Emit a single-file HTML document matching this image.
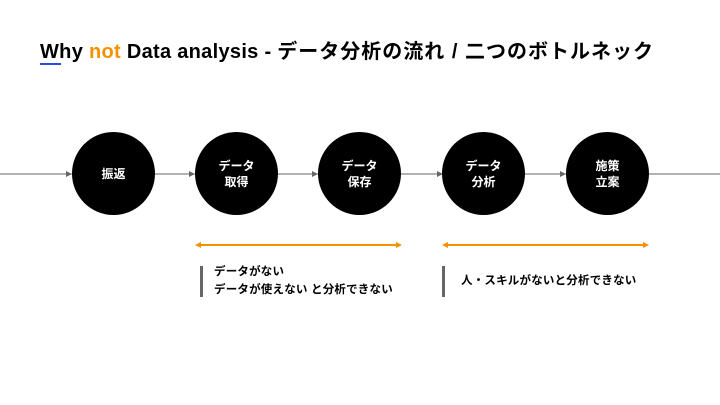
<!DOCTYPE html>
<html><head><meta charset="utf-8"><style>
body{margin:0;width:720px;height:405px;background:#fff;position:relative;overflow:hidden;font-family:"Liberation Sans","Noto Sans CJK JP",sans-serif;}
.t{position:absolute;left:40px;top:35px;font-size:20px;font-weight:bold;color:#000;letter-spacing:0.3px;white-space:nowrap}
.t .j{letter-spacing:1px}
.u{position:absolute;left:40px;top:63px;width:21px;height:2px;background:#2a4be0}
.c{position:absolute;width:83px;height:83px;border-radius:50%;background:#000;color:#fff;font-weight:bold;font-size:12px;line-height:16px;display:flex;align-items:center;justify-content:center;text-align:center}
.b{position:absolute;width:3px;height:31px;background:#666;top:266px}
.x{position:absolute;font-size:11.5px;font-weight:bold;line-height:18px;white-space:nowrap;letter-spacing:0.2px}
</style></head><body>
<div class="t">Why <span style="color:#f39200">not</span> Data analysis - <span class="j">データ分析の流れ / 二つのボトルネック</span></div>
<div class="u"></div>
<svg width="720" height="405" style="position:absolute;left:0;top:0">
<line x1="0" y1="174" x2="720" y2="174" stroke="#666" stroke-width="1"/>
<g fill="#666">
<polygon points="72,174 66,171 66,177"/>
<polygon points="195,174 189,171 189,177"/>
<polygon points="318,174 312,171 312,177"/>
<polygon points="443,174 437,171 437,177"/>
<polygon points="566,174 560,171 560,177"/>
</g>
<g stroke="#f39200" stroke-width="2" fill="#f39200">
<line x1="197" y1="245" x2="400" y2="245"/>
<polygon points="195,245 201,242 201,248" stroke="none"/>
<polygon points="402,245 396,242 396,248" stroke="none"/>
<line x1="444" y1="245" x2="647" y2="245"/>
<polygon points="442,245 448,242 448,248" stroke="none"/>
<polygon points="649,245 643,242 643,248" stroke="none"/>
</g>
</svg>
<div class="c" style="left:72px;top:132px">振返</div>
<div class="c" style="left:195px;top:132px">データ<br>取得</div>
<div class="c" style="left:318px;top:132px">データ<br>保存</div>
<div class="c" style="left:442px;top:132px">データ<br>分析</div>
<div class="c" style="left:566px;top:132px">施策<br>立案</div>
<div class="b" style="left:200px"></div>
<div class="x" style="left:214px;top:263px">データがない<br>データが使えない と分析できない</div>
<div class="b" style="left:442px"></div>
<div class="x" style="left:461px;top:272px">人・スキルがないと分析できない</div>
</body></html>
